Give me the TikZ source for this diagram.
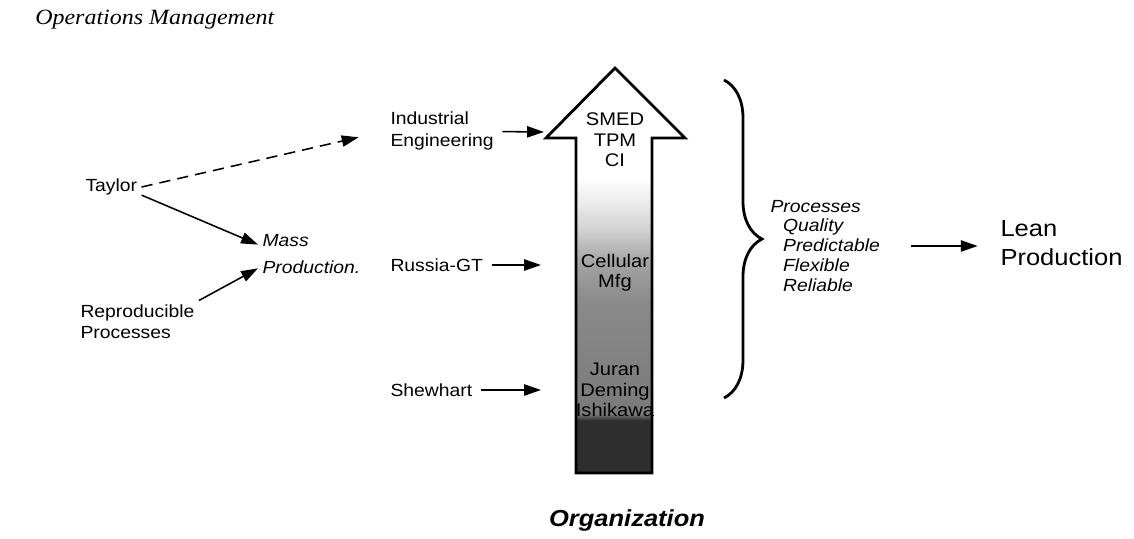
\documentclass[tikz,border=0pt]{standalone}
\usepackage{fontspec}
\setmainfont{Liberation Sans}[FakeStretch=1.1]
\newfontfamily\headfont{Liberation Serif}[FakeStretch=1.1]
\usetikzlibrary{arrows.meta,decorations.pathreplacing}
\pgfdeclareverticalshading{orgshade}{100bp}{color(0bp)=(black!82); color(31.5bp)=(black!82); color(32.3bp)=(black!52); color(46bp)=(black!46); color(51bp)=(black!36); color(55bp)=(black!18); color(59bp)=(black!6); color(61.5bp)=(white); color(100bp)=(white)}

\begin{document}
\begin{tikzpicture}[x=0.025cm,y=-0.025cm,
 lbl/.style={font=\fontsize{12.5}{15}\selectfont,inner sep=3pt,anchor=west,align=left},
 inarr/.style={font=\fontsize{13}{14.5}\selectfont,inner sep=1pt,align=center},
 arr/.style={-{Triangle[length=12pt,width=8pt]},line width=1.1pt}]
\useasboundingbox (0,0) rectangle (1134,539);
\node[anchor=west,inner sep=0pt,font=\headfont\itshape\fontsize{15.5}{18}\selectfont](title) at (35,20){Operations Management};
\node[lbl](taylor) at (81,187){Taylor};
\node[lbl](repro) at (76,322){Reproducible\\Processes};
\node[lbl,font=\fontsize{12.5}{19}\selectfont\itshape](mass) at (258,254){Mass\\Production.};
\node[lbl,font=\fontsize{12.5}{15.5}\selectfont](ie) at (386,131){Industrial\\Engineering};
\node[lbl](russia) at (386,265){Russia-GT};
\node[lbl](shew) at (386,390){Shewhart};
% the rising arrow
\shadedraw[shading=orgshade,line width=2pt,line join=miter]
 (576,473)--(576,138)--(546,138)--(615,68)--(685,138)--(652,138)--(652,473)--cycle;
\node[inarr](smed) at (615,140){SMED\\TPM\\CI};
\node[inarr](cell) at (615,273){Cellular\\Mfg};
\node[inarr](jur) at (615,390){Juran\\Deming\\Ishikawa};
\coordinate (in1) at (544,132);
\coordinate (in2) at (541,265);
\coordinate (in3) at (541,390);
\draw[line width=2pt,decorate,decoration={brace,amplitude=27pt}](724,80)--(724,398);
\node[lbl,font=\fontsize{12.5}{14.2}\selectfont\itshape](proc) at (766,246){Processes\\\hspace*{9pt}Quality\\\hspace*{9pt}Predictable\\\hspace*{9pt}Flexible\\\hspace*{9pt}Reliable};
\node[lbl,font=\fontsize{16.5}{21}\selectfont](lean) at (996,243){Lean\\Production};
\node[font=\fontsize{16.5}{20}\selectfont\bfseries\itshape](org) at (627,520){Organization};
% connectors
\draw[arr,dash pattern=on 8pt off 5pt,shorten >=20pt](taylor.east)--(ie.west);
\draw[arr](taylor.-15)--(mass.170);
\draw[arr](repro.north east)--(mass.195);
\foreach \s/\t in {ie/in1,russia/in2,shew/in3}{\draw[arr,shorten <=3pt](\s)--(\t);}
\draw[arr,shorten <=19pt,shorten >=13pt](proc.east)--(proc.east-|lean.west);
\end{tikzpicture}
\end{document}
